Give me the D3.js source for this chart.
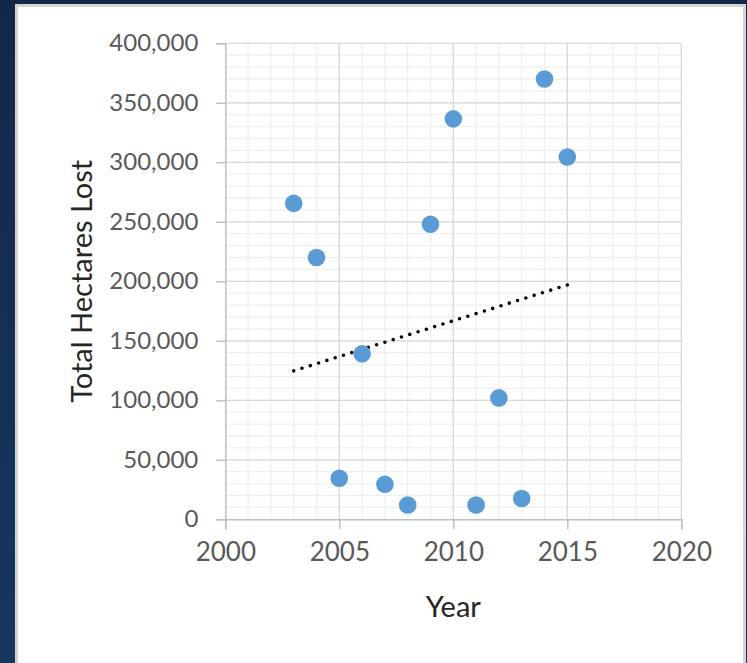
<!DOCTYPE html>
<html>
<head>
<meta charset="utf-8">
<script src="https://cdn.jsdelivr.net/npm/d3@7"></script>
<style>
  html, body { margin: 0; padding: 0; }
  body { width: 747px; height: 663px; overflow: hidden;
         background: linear-gradient(#132848, #17375f); }
  svg { display: block; }
</style>
</head>
<body>
<div id="chart"></div>
<script>
// Data
const years = [2003, 2004, 2005, 2006, 2007, 2008, 2009, 2010, 2011, 2012, 2013, 2014, 2015];
const hectaresLost = [265500, 220000, 34500, 139000, 29500, 12000, 248000, 336500, 12000, 102000, 17500, 370000, 304500];

// Axis ticks
const xTicks = [2000, 2005, 2010, 2015, 2020];
const yTicks = [0, 50000, 100000, 150000, 200000, 250000, 300000, 350000, 400000];

const W = 747, H = 663;
const plot = { left: 225.3, right: 681.3, top: 43.3, bottom: 519.3 };
const font = "Lato, 'Open Sans', sans-serif";

const svg = d3.select("#chart")
    .append("svg")
    .attr("width", W)
    .attr("height", H);

// White chart panel with thin grey frame
svg.append("rect")
    .attr("x", 15).attr("y", 4)
    .attr("width", 731).attr("height", 670)
    .attr("fill", "#d4d4d4");
svg.append("rect")
    .attr("x", 18).attr("y", 7)
    .attr("width", 725).attr("height", 670)
    .attr("fill", "#ffffff");

// Scales
const x = d3.scaleLinear()
    .domain([2000, 2020])
    .range([plot.left, plot.right]);

const y = d3.scaleLinear()
    .domain([0, 400000])
    .range([plot.bottom, plot.top]);

// Minor gridlines (every year / every 10,000)
const grid = svg.append("g");
grid.selectAll(".minor-x")
    .data(d3.range(2001, 2020))
    .enter().append("line")
    .attr("x1", d => x(d)).attr("x2", d => x(d))
    .attr("y1", plot.top).attr("y2", plot.bottom)
    .attr("stroke", "#efefef").attr("stroke-width", 1.3);
grid.selectAll(".minor-y")
    .data(d3.range(10000, 400000, 10000))
    .enter().append("line")
    .attr("x1", plot.left).attr("x2", plot.right)
    .attr("y1", d => y(d)).attr("y2", d => y(d))
    .attr("stroke", "#efefef").attr("stroke-width", 1.3);

// Major gridlines
grid.selectAll(".major-x")
    .data(xTicks.slice(1))
    .enter().append("line")
    .attr("x1", d => x(d)).attr("x2", d => x(d))
    .attr("y1", plot.top).attr("y2", plot.bottom)
    .attr("stroke", "#d9d9d9").attr("stroke-width", 1.3);
grid.selectAll(".major-y")
    .data(yTicks.slice(1))
    .enter().append("line")
    .attr("x1", plot.left).attr("x2", plot.right)
    .attr("y1", d => y(d)).attr("y2", d => y(d))
    .attr("stroke", "#d9d9d9").attr("stroke-width", 1.3);

// Axes
const xAxis = svg.append("g")
    .attr("transform", `translate(0,${plot.bottom})`)
    .call(d3.axisBottom(x).tickValues(xTicks).tickFormat(d3.format("d")).tickSize(10).tickPadding(13));

const yAxis = svg.append("g")
    .attr("transform", `translate(${plot.left},0)`)
    .call(d3.axisLeft(y).tickValues(yTicks).tickFormat(d3.format(",")).tickSize(9).tickPadding(18));

[xAxis, yAxis].forEach(a => {
    a.select(".domain").attr("stroke", "#bfbfbf").attr("stroke-width", 1.5);
    a.selectAll(".tick line").attr("stroke", "#bfbfbf").attr("stroke-width", 1.5);
    a.selectAll(".tick text")
        .attr("fill", "#595959")
        .style("font-family", font);
});
xAxis.selectAll(".tick text").style("font-size", "26px");
yAxis.selectAll(".tick text").style("font-size", "24px");

// Linear trendline (least squares)
const meanX = d3.mean(years), meanY = d3.mean(hectaresLost);
const slope = d3.sum(years, (d, i) => (d - meanX) * (hectaresLost[i] - meanY)) /
              d3.sum(years, d => (d - meanX) ** 2);
const intercept = meanY - slope * meanX;
const trend = d3.extent(years).map(yr => [yr, intercept + slope * yr]);

const trendPath = svg.append("path")
    .datum(trend)
    .attr("fill", "none")
    .attr("stroke", "#000")
    .attr("stroke-width", 3.6)
    .attr("stroke-linecap", "round")
    .attr("d", d3.line().x(d => x(d[0])).y(d => y(d[1])));

// space the round dots so one sits on each end
const len = trendPath.node().getTotalLength();
const gap = len / Math.round(len / 8.7);
trendPath.attr("stroke-dasharray", `0 ${gap}`);

// Points
svg.selectAll(".dot")
    .data(years)
    .enter().append("circle")
    .attr("class", "dot")
    .attr("cx", d => x(d))
    .attr("cy", (d, i) => y(hectaresLost[i]))
    .attr("r", 8.8)
    .attr("fill", "#5b9bd5");

// Axis titles
svg.append("text")
    .attr("x", (plot.left + plot.right) / 2)
    .attr("y", 616.5)
    .attr("text-anchor", "middle")
    .attr("fill", "#262626")
    .style("font-family", font)
    .style("font-size", "29px")
    .text("Year");

svg.append("text")
    .attr("transform", `translate(92,${(plot.top + plot.bottom) / 2}) rotate(-90)`)
    .attr("text-anchor", "middle")
    .attr("fill", "#262626")
    .style("font-family", font)
    .style("font-size", "29px")
    .text("Total Hectares Lost");
</script>
</body>
</html>
